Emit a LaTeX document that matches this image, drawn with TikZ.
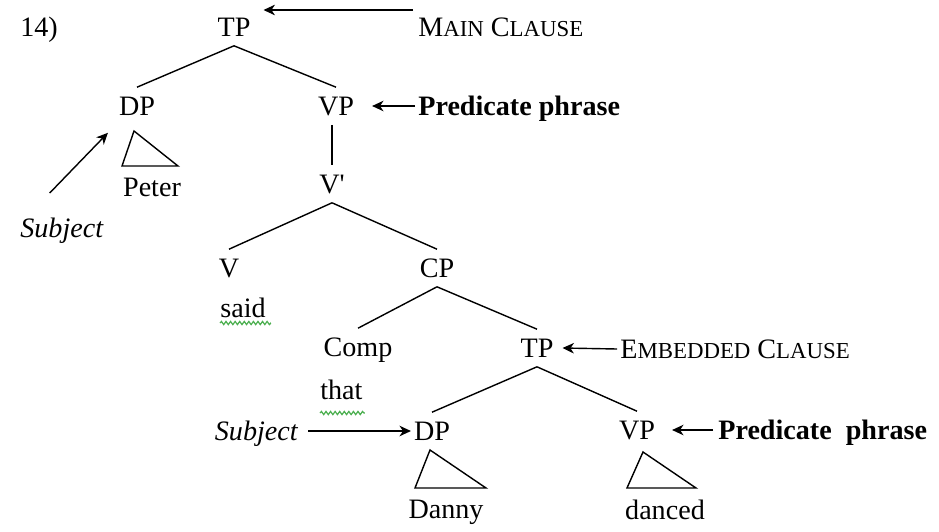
\documentclass[tikz,border=0pt]{standalone}
\usepackage{fontspec}
\setmainfont{Liberation Serif}
\usepackage{tikz}
\usetikzlibrary{decorations.pathmorphing, arrows.meta}
\definecolor{spellgreen}{RGB}{76,175,80}
\newcommand{\littlecaps}[1]{{\fontsize{13}{15}\selectfont #1}}

\begin{document}
\begin{tikzpicture}[x=0.02cm, y=-0.02cm, font=\fontsize{16}{19}\selectfont]
% Define tree styles
\tikzstyle{cat} = [inner xsep=1pt, inner ysep=5pt, text height=11pt, text depth=0pt]
\tikzstyle{word} = [inner sep=0pt, text height=11pt, text depth=0pt]
\tikzstyle{note} = [word, anchor=west]
\tikzstyle{branch} = [line width=0.8pt]
\tikzstyle{arrow} = [-{Stealth[length=6.5pt, width=6pt, inset=2pt]}, line width=0.8pt]
\tikzstyle{roof} = [line width=0.8pt, line join=miter]
\tikzstyle{squiggle} = [spellgreen, line width=0.7pt, decorate, decoration={snake, amplitude=0.9pt, segment length=2.6pt}]
\useasboundingbox (0,0) rectangle (939,531);
% Define nodes (main clause)
\node[note] (Number) at (20,27) {14)};
\node[cat] (MainTP) at (234,27) {TP};
\node[cat] (SubjDP) at (137,106) {DP};
\node[cat] (MainVP) at (336,106) {VP};
\node[word] (Peter) at (152,187) {Peter};
\node[cat] (Vbar) at (332,184) {V\textquotesingle};
\node[cat] (Verb) at (229,268) {V};
\node[note] (Said) at (220,308) {said};
\node[cat] (CompP) at (437,268) {CP};
% Define nodes (embedded clause)
\node[cat] (Comp) at (358,347) {Comp};
\node[note] (That) at (320,390) {that};
\node[cat] (EmbTP) at (537,348) {TP};
\node[cat] (EmbDP) at (432,431) {DP};
\node[cat] (EmbVP) at (637,430) {VP};
\node[word] (Danny) at (446,509) {Danny};
\node[word] (Danced) at (665,510) {danced};
% Define annotation nodes
\node[note] (MainLabel) at (418,27) {M\littlecaps{AIN} C\littlecaps{LAUSE}};
\node[note] (PredTop) at (418,106) {\bfseries Predicate phrase};
\node[note] (TopSubject) at (20,228) {\itshape Subject};
\node[note] (EmbLabel) at (620,349) {E\littlecaps{MBEDDED} C\littlecaps{LAUSE}};
\node[word, anchor=east] (EmbSubject) at (298,431) {\itshape Subject};
\node[note] (PredBottom) at (718,430) {\bfseries Predicate\ \ phrase};
% Branches
\draw[branch] (MainTP.south) -- (SubjDP.north);
\draw[branch] (MainTP.south) -- (MainVP.north);
\draw[branch] (Vbar.north |- MainVP.south) -- (Vbar.north);
\draw[branch] (Vbar.south) -- (Verb.north);
\draw[branch] (Vbar.south) -- (CompP.north);
\draw[branch] (CompP.south) -- (Comp.north);
\draw[branch] (CompP.south) -- (EmbTP.north);
\draw[branch] (EmbTP.south) -- (EmbDP.north);
\draw[branch] (EmbTP.south) -- (EmbVP.north);
% Triangles
\draw[roof] (134,131) -- (122,166) -- (178,166) -- cycle;
\draw[roof] (430,450) -- (415,488) -- (486,488) -- cycle;
\draw[roof] (643,452) -- (627,488) -- (696,488) -- cycle;
% Spelling underlines
\draw[squiggle] ([shift={(0,5)}]Said.south west) -- ([shift={(5,5)}]Said.south east);
\draw[squiggle] ([shift={(0,13)}]That.south west) -- ([shift={(2,13)}]That.south east);
% Relationships (arrows)
\draw[arrow] ([shift={(-5,-17)}]MainLabel.west) -- ([shift={(11,-17)}]MainTP.east);
\draw[arrow] ([shift={(-3,0)}]PredTop.west) -- ([shift={(16,0)}]MainVP.east);
\draw[arrow] ([shift={(-12,-25)}]TopSubject.north) -- ([shift={(-9,8)}]SubjDP.south west);
\draw[arrow] ([shift={(-3,0)}]EmbLabel.west) -- ([shift={(7,0)}]EmbTP.east);
\draw[arrow] ([shift={(10,0)}]EmbSubject.east) -- ([shift={(-1,0)}]EmbDP.west);
\draw[arrow] ([shift={(-5,0)}]PredBottom.west) -- ([shift={(15,0)}]EmbVP.east);
\end{tikzpicture}
\end{document}
